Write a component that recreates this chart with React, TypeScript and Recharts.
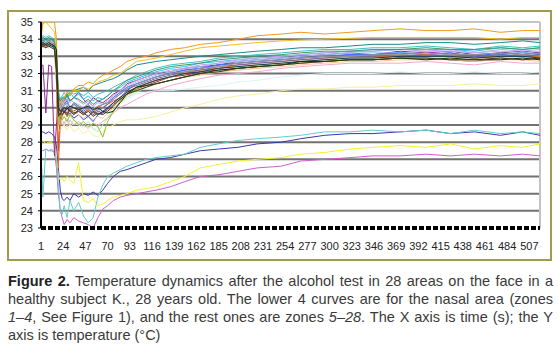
import React from 'react';
import { LineChart, Line, XAxis, YAxis, CartesianGrid, ReferenceLine } from 'recharts';

// time index (s) at which values were read
const timeIdx = [
  1, 3, 6, 9, 12,
  15, 17, 19, 21, 23,
  25, 28, 31, 35, 40,
  45, 50, 55, 60, 65,
  70, 76, 83, 90, 100,
  110, 120, 135, 150, 166,
  185, 205, 225, 250, 270,
  295, 321, 345, 373, 400,
  425, 450, 477, 500, 518,
];

const xTicks = [1, 24, 47, 70, 93, 116, 139, 162, 185, 208, 231, 254, 277, 300, 323, 346, 369, 392, 415, 438, 461, 484, 507];
const yTicks = [23, 24, 25, 26, 27, 28, 29, 30, 31, 32, 33, 34, 35];
const gridValues = [24, 25, 26, 27, 28, 29, 30, 31, 32, 33, 34];

// zones 1-4 (nasal area)
const zone1 = [28.6, 28.6, 28.5, 28.6, 28.5, 28.3, 27.8, 26.5, 25.2, 24.7, 24.6, 24.8, 24.6, 25.0, 24.8, 25.0, 24.9, 25.1, 24.9, 25.2, 25.6, 26.0, 26.3, 26.4, 26.6, 26.8, 27.0, 27.1, 27.3, 27.5, 27.6, 27.7, 27.9, 28.0, 28.2, 28.4, 28.5, 28.5, 28.6, 28.7, 28.5, 28.6, 28.4, 28.6, 28.4];
const zone2 = [27.6, 27.5, 27.6, 27.5, 27.5, 27.4, 26.5, 25.0, 24.0, 23.6, 23.2, 23.5, 23.3, 23.6, 23.4, 23.3, 23.2, 23.0, 23.6, 24.1, 24.3, 24.6, 24.8, 24.9, 25.0, 25.1, 25.2, 25.4, 25.7, 26.0, 26.1, 26.3, 26.5, 26.6, 26.9, 27.0, 27.1, 27.2, 27.2, 27.3, 27.2, 27.3, 27.2, 27.3, 27.2];
const zone3 = [28.0, 28.1, 27.9, 28.0, 28.0, 27.8, 27.0, 26.0, 25.8, 25.9, 25.7, 26.0, 25.8, 25.6, 26.8, 24.6, 24.5, 24.7, 24.3, 24.4, 24.6, 24.8, 24.9, 25.0, 25.2, 25.3, 25.4, 25.7, 26.0, 26.5, 26.7, 26.9, 27.0, 27.1, 27.3, 27.4, 27.6, 27.7, 27.8, 27.7, 27.9, 27.6, 27.8, 27.7, 27.9];
const zone4 = [27.6, 24.8, 27.6, 27.5, 27.6, 27.4, 27.0, 25.5, 24.0, 23.8, 24.3, 23.6, 24.6, 24.0, 24.5, 23.7, 23.3, 23.6, 24.8, 25.5, 26.0, 26.2, 26.4, 26.6, 26.8, 27.0, 27.1, 27.2, 27.3, 27.7, 27.9, 28.1, 28.2, 28.3, 28.4, 28.6, 28.6, 28.7, 28.6, 28.7, 28.5, 28.7, 28.5, 28.6, 28.5];
// zones 5-28
const zone5 = [32.4, 32.5, 29.7, 32.5, 32.4, 27.2, 29.0, 30.6, 30.2, 30.5, 30.3, 30.8, 30.4, 30.6, 30.9, 30.5, 30.2, 30.6, 30.4, 30.3, 30.5, 30.8, 31.0, 31.4, 31.6, 31.8, 32.0, 32.1, 32.3, 32.4, 32.5, 32.7, 32.8, 32.9, 33.0, 33.1, 33.2, 33.1, 33.3, 33.2, 33.3, 33.1, 33.2, 33.3, 33.2];
const zone6 = [33.6, 33.7, 33.7, 33.6, 33.6, 33.5, 31.5, 27.5, 29.6, 29.8, 29.9, 29.7, 30.0, 29.8, 30.0, 29.7, 29.9, 29.6, 29.8, 29.7, 29.9, 30.2, 30.5, 30.8, 31.1, 31.3, 31.5, 31.8, 31.9, 32.1, 32.2, 32.3, 32.4, 32.5, 32.6, 32.7, 32.8, 32.8, 32.9, 32.9, 32.8, 32.7, 32.9, 32.8, 32.9];
const zone7 = [34.0, 34.1, 34.0, 34.1, 34.0, 33.9, 33.0, 30.8, 30.4, 30.5, 30.6, 30.8, 30.7, 31.0, 31.1, 31.2, 31.0, 31.3, 31.4, 31.5, 31.6, 31.7, 31.9, 32.2, 32.5, 32.6, 32.7, 32.8, 32.9, 33.0, 33.1, 33.2, 33.3, 33.4, 33.5, 33.5, 33.6, 33.7, 33.7, 33.8, 33.8, 33.7, 33.8, 33.9, 33.8];
const zone8 = [33.7, 33.6, 33.7, 33.6, 33.7, 33.5, 32.8, 30.2, 29.4, 29.6, 29.8, 29.5, 29.7, 29.4, 29.6, 29.3, 29.5, 29.2, 29.6, 29.7, 30.0, 30.3, 30.6, 31.0, 31.4, 31.6, 31.8, 32.0, 32.2, 32.3, 32.5, 32.6, 32.7, 32.8, 32.9, 33.0, 33.1, 33.1, 33.2, 33.1, 33.2, 33.0, 33.2, 33.1, 33.2];
const zone9 = [33.9, 34.0, 33.9, 34.0, 33.9, 33.8, 32.0, 29.5, 30.3, 30.5, 30.7, 30.4, 30.9, 30.6, 30.8, 30.5, 30.7, 30.4, 30.6, 30.5, 30.7, 31.0, 31.2, 31.5, 31.7, 31.9, 32.1, 32.3, 32.4, 32.6, 32.7, 32.8, 32.9, 33.0, 33.1, 33.2, 33.3, 33.3, 33.4, 33.4, 33.4, 33.3, 33.5, 33.4, 33.5];
const zone10 = [33.5, 33.6, 33.5, 33.6, 33.5, 33.4, 32.0, 29.5, 29.0, 29.2, 29.0, 29.3, 28.9, 29.1, 29.0, 28.8, 29.0, 28.7, 28.9, 29.2, 29.5, 29.8, 30.2, 30.5, 30.8, 30.9, 31.0, 31.0, 31.1, 31.2, 31.3, 31.5, 31.6, 31.8, 31.9, 32.0, 32.0, 32.0, 32.1, 32.0, 32.0, 32.1, 32.0, 32.0, 32.1];
const zone11 = [33.6, 33.7, 33.6, 33.7, 33.6, 33.5, 32.6, 29.2, 29.0, 29.3, 29.1, 29.4, 29.0, 29.3, 29.1, 28.9, 29.2, 28.8, 28.6, 29.0, 29.4, 29.9, 30.3, 30.6, 30.9, 31.2, 31.4, 31.6, 31.8, 32.0, 32.1, 32.2, 32.3, 32.5, 32.6, 32.7, 32.8, 32.8, 32.9, 32.9, 32.9, 32.8, 32.9, 32.9, 32.8];
const zone12 = [33.8, 33.9, 33.8, 33.9, 33.8, 33.7, 31.5, 28.8, 28.6, 28.9, 29.0, 28.7, 29.0, 28.6, 28.8, 28.5, 28.7, 28.4, 28.3, 28.6, 28.8, 29.0, 29.2, 29.3, 29.3, 29.4, 29.5, 29.75, 30.0, 30.2, 30.5, 30.7, 30.8, 31.0, 31.1, 31.1, 31.2, 31.2, 31.3, 31.3, 31.3, 31.4, 31.3, 31.3, 31.4];
const zone13 = [33.8, 33.7, 33.8, 33.7, 33.8, 33.6, 32.4, 30.4, 29.9, 30.2, 30.4, 30.1, 30.5, 30.3, 30.2, 30.0, 30.3, 30.1, 29.8, 30.0, 30.3, 30.6, 30.9, 31.2, 31.5, 31.7, 31.9, 32.1, 32.3, 32.4, 32.6, 32.7, 32.8, 32.9, 33.0, 33.1, 33.2, 33.2, 33.2, 33.3, 33.3, 33.2, 33.3, 33.2, 33.3];
const zone14 = [33.5, 33.6, 33.5, 33.6, 33.5, 33.4, 31.8, 29.0, 29.3, 29.0, 29.2, 28.9, 29.3, 29.0, 29.2, 29.0, 28.8, 29.1, 29.0, 29.2, 29.4, 29.7, 30.0, 30.2, 30.5, 30.8, 31.0, 31.3, 31.5, 31.7, 31.9, 32.0, 32.1, 32.3, 32.4, 32.5, 32.6, 32.6, 32.6, 32.7, 32.6, 32.5, 32.7, 32.6, 32.6];
const zone15 = [33.9, 33.8, 33.9, 33.8, 33.9, 33.7, 32.8, 30.6, 30.1, 30.4, 30.2, 30.5, 30.3, 30.6, 30.4, 30.2, 30.4, 30.1, 30.3, 30.2, 30.4, 30.7, 31.0, 31.3, 31.6, 31.8, 32.0, 32.2, 32.3, 32.5, 32.6, 32.8, 32.9, 33.0, 33.1, 33.2, 33.3, 33.3, 33.4, 33.3, 33.4, 33.2, 33.4, 33.3, 33.4];
const zone16 = [33.6, 33.5, 33.6, 33.5, 33.6, 33.4, 32.2, 29.8, 29.5, 29.7, 29.6, 29.9, 29.5, 29.8, 29.6, 29.4, 29.6, 29.3, 29.5, 29.4, 29.7, 30.0, 30.3, 30.7, 31.0, 31.2, 31.4, 31.6, 31.8, 31.9, 32.1, 32.2, 32.3, 32.4, 32.5, 32.6, 32.7, 32.7, 32.8, 32.8, 32.8, 32.7, 32.8, 32.8, 32.7];
const zone17 = [33.7, 33.8, 33.7, 33.8, 33.7, 33.6, 32.7, 30.0, 30.3, 30.0, 30.2, 30.4, 30.0, 30.3, 30.1, 29.9, 30.1, 29.8, 30.0, 30.2, 30.3, 30.6, 30.9, 31.2, 31.4, 31.6, 31.8, 32.0, 32.2, 32.3, 32.5, 32.6, 32.7, 32.8, 32.9, 33.0, 33.1, 33.1, 33.2, 33.1, 33.2, 33.0, 33.1, 33.2, 33.1];
const zone18 = [34.1, 34.2, 34.1, 34.2, 34.1, 34.0, 33.2, 31.0, 30.5, 30.7, 30.9, 30.6, 31.0, 30.8, 30.9, 30.7, 30.9, 30.6, 30.8, 30.9, 31.0, 31.2, 31.4, 31.6, 31.9, 32.1, 32.3, 32.5, 32.6, 32.7, 32.9, 33.0, 33.1, 33.2, 33.3, 33.4, 33.4, 33.5, 33.5, 33.6, 33.5, 33.4, 33.6, 33.5, 33.6];
const zone19 = [33.6, 33.7, 33.6, 33.7, 33.6, 33.5, 32.0, 29.0, 29.6, 29.3, 29.5, 29.2, 29.6, 29.3, 29.0, 29.2, 28.9, 29.1, 28.9, 28.3, 29.2, 29.8, 30.4, 30.8, 31.1, 31.4, 31.6, 31.8, 32.0, 32.2, 32.3, 32.4, 32.5, 32.6, 32.7, 32.8, 32.9, 32.9, 33.0, 33.0, 33.0, 32.9, 33.0, 33.1, 33.0];
const zone20 = [34.4, 34.9, 35.0, 34.8, 34.6, 34.4, 33.5, 30.0, 30.3, 30.5, 30.6, 30.9, 30.7, 31.0, 31.0, 31.2, 31.1, 31.3, 31.5, 31.6, 31.7, 31.9, 32.0, 32.3, 32.7, 32.8, 32.9, 33.1, 33.3, 33.5, 33.6, 33.7, 33.8, 33.9, 33.95, 34.0, 34.05, 34.1, 34.1, 34.1, 34.1, 34.1, 34.0, 34.1, 34.1];
const zone21 = [34.0, 35.0, 35.0, 35.0, 35.0, 35.0, 34.0, 30.5, 29.6, 30.3, 30.5, 30.9, 30.8, 31.1, 31.3, 31.3, 31.5, 31.4, 31.7, 31.9, 32.0, 32.2, 32.4, 32.7, 32.9, 33.0, 33.2, 33.4, 33.5, 33.7, 33.8, 34.0, 34.2, 34.3, 34.4, 34.3, 34.4, 34.5, 34.6, 34.5, 34.5, 34.6, 34.4, 34.5, 34.5];
const zone22 = [33.8, 33.9, 33.8, 33.9, 33.8, 33.7, 32.0, 26.5, 29.2, 29.5, 29.8, 29.5, 29.9, 29.6, 29.8, 29.6, 29.9, 29.7, 30.1, 30.0, 30.2, 30.4, 30.6, 30.9, 31.2, 31.4, 31.6, 31.8, 32.0, 32.2, 32.3, 32.5, 32.6, 32.7, 32.8, 32.9, 33.0, 33.0, 33.0, 33.1, 33.0, 32.9, 33.0, 33.1, 33.0];
const zone23 = [33.7, 33.6, 33.7, 33.6, 33.7, 33.5, 32.5, 30.1, 29.8, 30.0, 29.8, 30.1, 29.9, 30.2, 30.0, 29.8, 30.0, 29.7, 29.9, 30.0, 30.2, 30.5, 30.8, 31.1, 31.3, 31.5, 31.7, 31.9, 32.1, 32.2, 32.4, 32.5, 32.6, 32.7, 32.8, 32.9, 33.0, 33.0, 33.1, 33.0, 33.1, 33.0, 33.1, 33.0, 33.1];
const zone24 = [33.8, 33.7, 33.8, 33.7, 33.8, 33.6, 32.9, 30.3, 30.0, 30.2, 30.1, 30.3, 30.0, 30.2, 30.1, 30.0, 30.2, 29.9, 30.1, 30.2, 30.3, 30.5, 30.8, 31.1, 31.4, 31.6, 31.8, 32.0, 32.1, 32.3, 32.4, 32.6, 32.7, 32.8, 32.9, 33.0, 33.0, 33.1, 33.1, 33.2, 33.1, 33.1, 33.2, 33.1, 33.2];
const zone25 = [33.6, 33.7, 33.6, 33.7, 33.6, 33.5, 32.3, 29.7, 29.6, 29.9, 29.7, 30.0, 29.8, 29.6, 29.9, 29.7, 29.5, 29.8, 29.6, 29.8, 30.0, 30.3, 30.6, 30.9, 31.2, 31.4, 31.6, 31.8, 32.0, 32.1, 32.3, 32.4, 32.5, 32.6, 32.7, 32.8, 32.9, 32.9, 33.0, 33.0, 33.0, 32.9, 33.0, 33.0, 32.9];
const zone26 = [34.0, 33.9, 34.0, 33.9, 34.0, 33.8, 33.0, 30.6, 30.4, 30.6, 30.5, 30.7, 30.4, 30.6, 30.5, 30.3, 30.5, 30.2, 30.4, 30.5, 30.7, 31.0, 31.3, 31.6, 31.8, 32.0, 32.2, 32.4, 32.5, 32.6, 32.8, 32.9, 33.0, 33.1, 33.2, 33.3, 33.3, 33.4, 33.4, 33.5, 33.4, 33.4, 33.5, 33.4, 33.5];
const zone27 = [33.7, 33.8, 33.7, 33.8, 33.7, 33.6, 33.4, 30.0, 29.8, 29.9, 30.0, 29.9, 30.1, 30.0, 29.9, 30.0, 30.1, 29.9, 30.0, 29.8, 29.7, 29.8, 30.3, 30.8, 31.2, 31.3, 31.4, 31.6, 31.8, 32.0, 32.2, 32.3, 32.4, 32.5, 32.7, 32.7, 32.8, 32.8, 32.9, 32.8, 32.9, 32.8, 32.8, 32.9, 32.8];
const zone28 = [33.5, 33.6, 33.5, 33.6, 33.5, 33.4, 32.2, 29.5, 29.7, 29.6, 29.8, 29.6, 29.9, 29.7, 29.8, 29.6, 29.8, 29.5, 29.7, 29.6, 29.8, 30.1, 30.5, 30.8, 31.0, 31.2, 31.4, 31.6, 31.8, 32.0, 32.1, 32.3, 32.4, 32.5, 32.6, 32.7, 32.8, 32.8, 32.9, 32.9, 32.8, 32.8, 32.9, 32.8, 32.9];

const zoneSeries = [
  zone1, zone2, zone3, zone4, zone5, zone6, zone7, zone8, zone9, zone10,
  zone11, zone12, zone13, zone14, zone15, zone16, zone17, zone18, zone19, zone20,
  zone21, zone22, zone23, zone24, zone25, zone26, zone27, zone28,
];

const zoneColors = [
  '#3a3aa6', '#cc5fcc', '#f2f230', '#66cccc', '#8a2a9a', '#a03030', '#1a8a8a', '#3050e0',
  '#30c0f0', '#d8f6f6', '#b8ecb8', '#f6f0a0', '#99c4f2', '#f4a8cc', '#c0a0f0', '#f6c89c',
  '#4a74f0', '#40c0c0', '#90c020', '#f4c020', '#f29a20', '#f06a20', '#6a6a9c', '#969696',
  '#1a3a6a', '#3a9a6a', '#143014', '#3a3a14',
];

const data = timeIdx.map((t, k) => {
  const row: Record<string, number> = { t };
  zoneSeries.forEach((arr, j) => {
    row['z' + (j + 1)] = arr[k];
  });
  return row;
});

const captionLines = [
  { bold: 'Figure 2.', parts: [{ text: ' Temperature dynamics after the alcohol test in 28 areas on the face in a', it: false }], justify: true },
  { bold: '', parts: [{ text: 'healthy subject K., 28 years old. The lower 4 curves are for the nasal area (zones', it: false }], justify: true },
  {
    bold: '',
    parts: [
      { text: '1–4', it: true },
      { text: ', See Figure 1), and the rest ones are zones ', it: false },
      { text: '5–28', it: true },
      { text: '. The X axis is time (s); the Y', it: false },
    ],
    justify: true,
  },
  { bold: '', parts: [{ text: 'axis is temperature (°C)', it: false }], justify: false },
];

export default function App() {
  return (
    <div
      style={{
        position: 'absolute',
        left: 0,
        top: 0,
        width: 559,
        height: 360,
        background: '#fff',
        fontFamily: 'Arial, "Liberation Sans", sans-serif',
        overflow: 'hidden',
      }}
    >
      <div
        style={{
          position: 'absolute',
          left: 7,
          top: 10,
          width: 545,
          height: 251,
          boxSizing: 'border-box',
          border: '2px solid #a09c4c',
        }}
      />
      <div style={{ position: 'absolute', left: 0, top: 0 }}>
        <LineChart width={559} height={260} data={data} margin={{ top: 22, right: 19, bottom: 0, left: 0 }}>
          <CartesianGrid vertical={false} horizontalValues={gridValues} stroke="#727272" strokeWidth={2} />
          <ReferenceLine y={35} stroke="#c4c4c4" strokeWidth={2} />
          <ReferenceLine x={518} stroke="#c4c4c4" strokeWidth={2} />
          <XAxis
            type="number"
            dataKey="t"
            domain={[1, 518]}
            ticks={xTicks}
            interval={0}
            height={32}
            axisLine={{ stroke: '#000', strokeWidth: 4, strokeDasharray: '5 2' }}
            tickLine={false}
            tickSize={6}
            tickMargin={8}
            tick={{ fontSize: 11, fill: '#222', fontFamily: 'Arial, "Liberation Sans", sans-serif' }}
          />
          <YAxis
            type="number"
            domain={[23, 35]}
            ticks={yTicks}
            interval={0}
            width={41}
            allowDataOverflow
            axisLine={{ stroke: '#000', strokeWidth: 2 }}
            tickLine={{ stroke: '#000' }}
            tickSize={3}
            tickMargin={5}
            tick={{ fontSize: 11, fill: '#222', fontFamily: 'Arial, "Liberation Sans", sans-serif' }}
          />
          {zoneSeries.map((_, j) => (
            <Line
              key={j}
              type="linear"
              dataKey={'z' + (j + 1)}
              stroke={zoneColors[j]}
              strokeWidth={1}
              dot={false}
              activeDot={false}
              isAnimationActive={false}
            />
          ))}
        </LineChart>
      </div>
      <div
        style={{
          position: 'absolute',
          left: 8,
          top: 272,
          width: 545,
          fontSize: 14.5,
          lineHeight: '18px',
          color: '#3a3a3a',
        }}
      >
        {captionLines.map((ln, i) => (
          <div
            key={i}
            style={{
              whiteSpace: 'nowrap',
              textAlign: ln.justify ? 'justify' : 'left',
              textAlignLast: ln.justify ? 'justify' : 'left',
            }}
          >
            {ln.bold ? <b style={{ color: '#222' }}>{ln.bold}</b> : null}
            {ln.parts.map((p, k) => (p.it ? <i key={k}>{p.text}</i> : <span key={k}>{p.text}</span>))}
          </div>
        ))}
      </div>
    </div>
  );
}
